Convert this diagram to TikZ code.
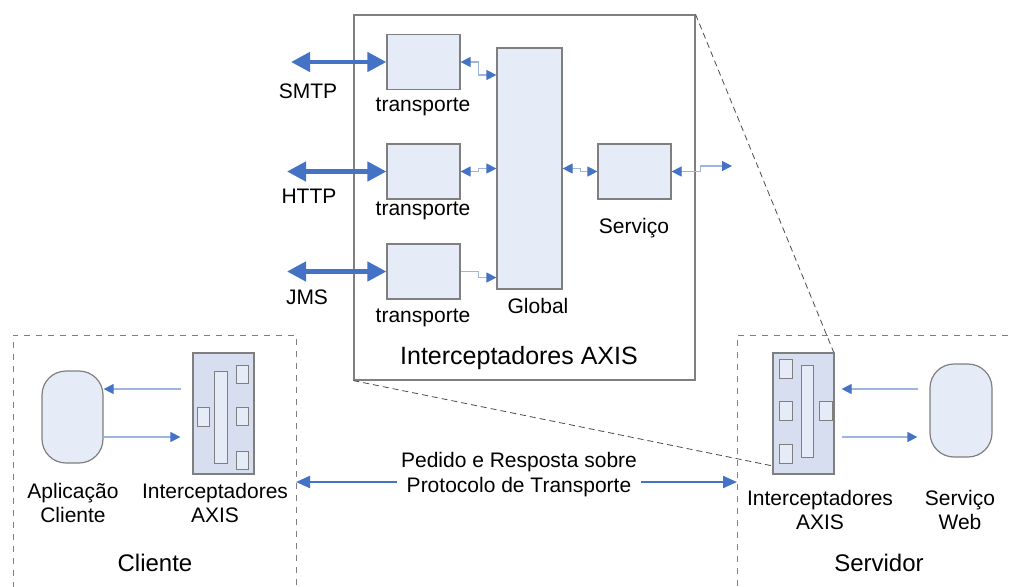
\documentclass[tikz,border=0pt]{standalone}
\usepackage{fontspec}
\setmainfont{Liberation Sans}
\usetikzlibrary{arrows.meta,calc}
\definecolor{boxfill}{HTML}{E6ECF7}
\definecolor{interfill}{HTML}{D6DEEF}
\definecolor{boxline}{HTML}{7F7F7F}
\definecolor{arrowblue}{HTML}{4472C4}
\definecolor{linkblue}{HTML}{9DB5DF}
\tikzset{
  blockbox/.style={draw=boxline, fill=boxfill, inner sep=0pt, line width=0.6pt},
  interbox/.style={draw=boxline, fill=interfill, inner sep=0pt, line width=0.6pt, minimum width=30.5pt, minimum height=60.5pt},
  smallbox/.style={draw=boxline, fill=boxfill, inner sep=0pt, line width=0.5pt},
  appbox/.style={draw=boxline, fill=boxfill, inner sep=0pt, line width=0.6pt, rounded corners=12pt, minimum width=30.5pt, minimum height=46pt},
  txt/.style={font=\fontsize{10.5}{12.3}\selectfont, align=center, inner sep=0pt},
  bigtxt/.style={font=\fontsize{12}{14}\selectfont, inner sep=0pt},
  bigarrow/.style={draw=arrowblue, line width=2.2pt, {Triangle[length=9.5pt,width=9.5pt]}-{Triangle[length=9.5pt,width=9.5pt]}},
  linkboth/.style={draw=linkblue, line width=0.6pt, {Triangle[length=5pt,width=5pt,color=arrowblue]}-{Triangle[length=5pt,width=5pt,color=arrowblue]}},
  linkone/.style={draw=linkblue, line width=0.6pt, -{Triangle[length=5pt,width=5pt,color=arrowblue]}},
  flowarrow/.style={draw=linkblue, line width=0.6pt, -{Triangle[length=5pt,width=5pt,color=arrowblue]}},
  reqarrow/.style={draw=arrowblue, line width=1.1pt, {Triangle[length=7pt,width=6pt]}-{Triangle[length=7pt,width=6pt]}},
  region/.style={draw=boxline, dashed, line width=0.5pt},
  zoomline/.style={draw=black!70, densely dashed, line width=0.4pt}
}
\begin{document}
\begin{tikzpicture}[x=0.5pt,y=-0.5pt]
\useasboundingbox (0,0) rectangle (1009,586);
% zonas cliente e servidor
\draw[region] (13,600) |- (296,335) -- (296,600);
\draw[region] (1020,335) -| (737,600);
\node[bigtxt] (cliZone) at (155,563) {Cliente};
\node[bigtxt] (srvZone) at (879,563) {Servidor};
% caixa dos interceptadores
\node[draw=boxline, fill=white, line width=0.6pt, minimum width=170.5pt, minimum height=182.5pt, inner sep=0pt] (axis) at (524.5,197.5) {};
\node[font=\fontsize{12.5}{15}\selectfont, inner sep=0pt] (axisLbl) at (519,358) {Interceptadores AXIS};
\node[blockbox, minimum width=36.5pt, minimum height=27.5pt] (t1) at (423.5,62) {};
\node[blockbox, minimum width=36.5pt, minimum height=27.5pt] (t2) at (423.5,171.5) {};
\node[blockbox, minimum width=36.5pt, minimum height=27.5pt] (t3) at (423.5,271.5) {};
\node[blockbox, minimum width=32.5pt, minimum height=120.5pt] (global) at (529.5,168.5) {};
\node[blockbox, minimum width=36.5pt, minimum height=27.5pt] (servico) at (634.5,171.5) {};
\node[txt] (t1Lbl) at (423,107) {transporte};
\node[txt] (t2Lbl) at (423,211) {transporte};
\node[txt] (t3Lbl) at (423,318) {transporte};
\node[txt] (globalLbl) at (538,306) {Global};
\node[txt] (servicoLbl) at (634,228) {Serviço};
\node[txt] (smtpLbl) at (308,91) {SMTP};
\node[txt] (httpLbl) at (309,196) {HTTP};
\node[txt] (jmsLbl) at (307,297) {JMS};
% protocolos
\coordinate (smtpEnd) at (291,62);
\coordinate (httpEnd) at (287,171.5);
\coordinate (jmsEnd) at (287,271.5);
\draw[bigarrow] (smtpEnd) -- (t1.west);
\draw[bigarrow] (httpEnd) -- (t2.west);
\draw[bigarrow] (jmsEnd) -- (t3.west);
% ligacoes internas
\draw[linkboth] (t1.east) -- ++(18,0) |- ($(t1.east -| global.west)+(0,13)$);
\draw[linkboth] (t2.east) -- ++(18,0) |- ($(t2.east -| global.west)+(0,-3)$);
\draw[linkone] (t3.east) -- ++(18,0) |- ($(t3.east -| global.west)+(0,6)$);
\draw[linkboth] (global.east) -- ++(18,0) |- (servico.west);
\coordinate (outEnd) at (732,166);
\draw[linkboth] (servico.east) -- ++(29,0) |- (outEnd);
% cliente
\node[appbox] (cliApp) at (72.5,417) {};
\node[interbox] (cliInt) at (223.5,413.5) {};
\node[smallbox, minimum width=6.5pt, minimum height=46pt] (cliBar) at (220.5,417) {};
\foreach \y [count=\i] in {374,416.5,460}
  \node[smallbox, minimum width=6pt, minimum height=9pt] (cliR\i) at (242,\y) {};
\node[smallbox, minimum width=6pt, minimum height=9.5pt] (cliL) at (203,416.5) {};
\draw[flowarrow] ($(cliInt.west)+(-11,-24.5)$) -- ($(cliApp.east)+(0,-28)$);
\draw[flowarrow] ($(cliApp.east)+(0,20)$) -- ($(cliInt.west)+(-12,23.5)$);
\node[txt] (cliAppLbl) at (73,503) {Aplicação\\Cliente};
\node[txt] (cliIntLbl) at (215,503) {Interceptadores\\AXIS};
% servidor
\draw[zoomline] (axis.north east) -- (834,353);
\draw[zoomline] (axis.south west) -- (773,466);
\node[interbox] (srvInt) at (803.5,413.5) {};
\node[smallbox, minimum width=6pt, minimum height=46pt] (srvBar) at (807,411) {};
\foreach \y [count=\i] in {368.5,410.5,453.5}
  \node[smallbox, minimum width=6.5pt, minimum height=9.5pt] (srvL\i) at (785.5,\y) {};
\node[smallbox, minimum width=6.5pt, minimum height=9.5pt] (srvR) at (825.5,410.5) {};
\node[appbox, minimum width=31pt, minimum height=46.5pt] (srvWeb) at (961,410.5) {};
\draw[flowarrow] ($(srvWeb.west)+(-11,-21.5)$) -- ($(srvInt.east)+(7,-24.5)$);
\draw[flowarrow] ($(srvInt.east)+(7,23.5)$) -- ($(srvWeb.west)+(-12,26.5)$);
\node[txt] (srvIntLbl) at (820,510) {Interceptadores\\AXIS};
\node[txt] (srvWebLbl) at (960,510) {Serviço\\Web};
% pedido e resposta
\coordinate (reqL) at (296,482);
\coordinate (reqR) at (737,482);
\draw[reqarrow] (reqL) -- (reqR);
\node[txt, fill=white, inner sep=2pt] (reqLbl) at (519,474.5) {Pedido e Resposta sobre\\Protocolo de Transporte};
\end{tikzpicture}
\end{document}
